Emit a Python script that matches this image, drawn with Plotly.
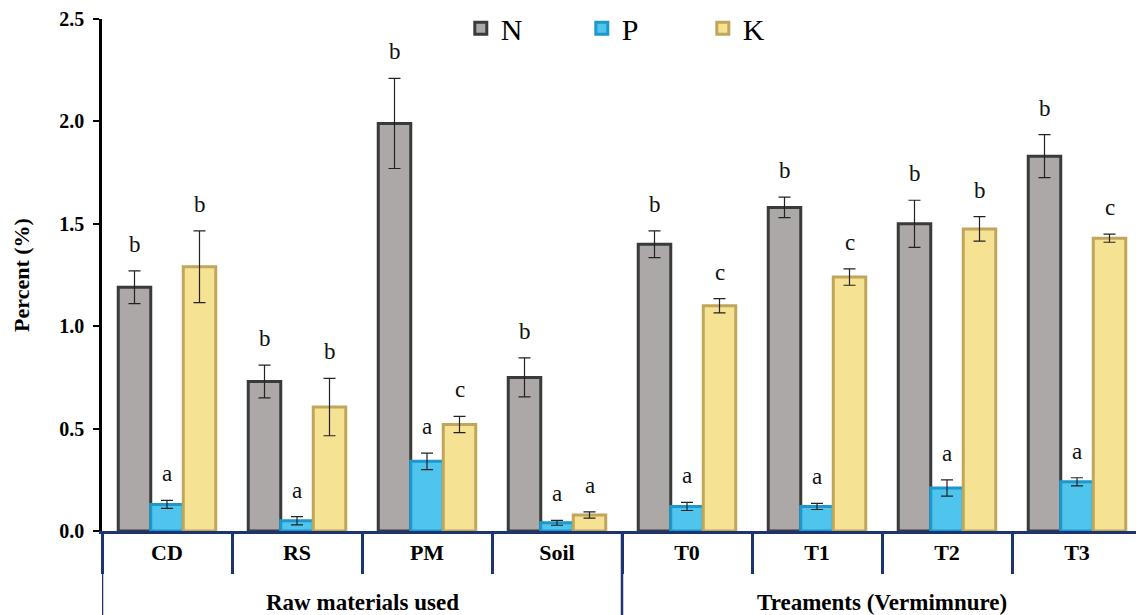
import plotly.graph_objects as go

categories = ["CD", "RS", "PM", "Soil", "T0", "T1", "T2", "T3"]
groups = ["Raw materials used", "Treaments (Vermimnure)"]
n_vals = [1.19, 0.73, 1.99, 0.75, 1.40, 1.58, 1.50, 1.83]
n_err = [0.08, 0.08, 0.22, 0.095, 0.065, 0.05, 0.115, 0.105]
p_vals = [0.13, 0.05, 0.34, 0.04, 0.12, 0.12, 0.21, 0.24]
p_err = [0.02, 0.02, 0.04, 0.012, 0.02, 0.015, 0.04, 0.02]
k_vals = [1.29, 0.605, 0.52, 0.078, 1.10, 1.24, 1.475, 1.43]
k_err = [0.175, 0.14, 0.04, 0.015, 0.035, 0.04, 0.06, 0.02]
n_letters = ["b", "b", "b", "b", "b", "b", "b", "b"]
p_letters = ["a", "a", "a", "a", "a", "a", "a", "a"]
k_letters = ["b", "b", "c", "a", "c", "c", "b", "c"]

FONT = "Liberation Serif"
NAVY = "#1c3471"

series = [
    ("N", n_vals, n_err, n_letters, "#aca8a8", "#3a3a3a", -32.5),
    ("P", p_vals, p_err, p_letters, "#4fc4ec", "#1e98cc", 0),
    ("K", k_vals, k_err, k_letters, "#f6e293", "#bfa65a", 32.5),
]

fig = go.Figure()
annotations = []
for name, vals, errs, letters, fill, line, shift in series:
    fig.add_trace(go.Bar(
        name=name, x=categories, y=vals,
        marker=dict(color=fill, line=dict(color=line, width=3)),
        error_y=dict(type="data", array=errs, visible=True, color="#222222",
                     thickness=1.2, width=6),
    ))
    for c, v, e, t in zip(categories, vals, errs, letters):
        annotations.append(dict(
            x=c, y=v + e, xref="x", yref="y", text=t, showarrow=False,
            xshift=shift, yshift=12, yanchor="bottom",
            font=dict(family=FONT, size=23, color="#111111"),
        ))

XBOLD = dict(family=FONT, size=22, color="black", weight="bold")
GBOLD = dict(family=FONT, size=23, color="black", weight="bold")
# group labels
annotations.append(dict(x=1.5, y=-0.14, xref="x", yref="paper", text=groups[0],
                        showarrow=False, yanchor="middle", font=GBOLD))
annotations.append(dict(x=5.5, y=-0.14, xref="x", yref="paper", text=groups[1],
                        showarrow=False, yanchor="middle", font=GBOLD))

shapes = []
for xb in [-0.5, 3.5, 7.5]:
    shapes.append(dict(type="line", xref="x", yref="paper", x0=xb, x1=xb, y0=0, y1=-0.17,
                       line=dict(color=NAVY, width=2.5)))

fig.update_layout(
    width=1136, height=607,
    margin=dict(l=94, r=2, t=11, b=84, autoexpand=False),
    plot_bgcolor="white", paper_bgcolor="white",
    barmode="group", bargap=0.25, bargroupgap=0,
    font=dict(family=FONT, color="black"),
    annotations=annotations, shapes=shapes,
    showlegend=True,
    legend=dict(orientation="h", x=0.345, xanchor="left", y=0.982, yanchor="middle",
                font=dict(family=FONT, size=30, color="black"),
                entrywidth=76, entrywidthmode="pixels", itemwidth=30,
                bgcolor="rgba(0,0,0,0)"),
    xaxis=dict(
        type="category", range=[-0.5, 7.5], automargin=False,
        showline=True, linecolor=NAVY, linewidth=2.5,
        ticks="outside", tickson="boundaries", ticklen=40, tickcolor=NAVY, tickwidth=2.5,
        tickfont=XBOLD,
        showgrid=False, zeroline=False,
    ),
    yaxis=dict(
        range=[0, 2.5], dtick=0.5, tickformat=".1f", automargin=False,
        showline=True, linecolor="black", linewidth=2.5,
        ticks="outside", ticklen=6, tickcolor="black", tickwidth=2,
        ticklabelstandoff=5,
        tickfont=dict(family=FONT, size=20, color="black", weight="bold"),
        title=dict(text="Percent (%)", font=dict(family=FONT, size=22, color="black", weight="bold"), standoff=24),
        showgrid=False, zeroline=False,
    ),
)

fig.write_html("out.html")
